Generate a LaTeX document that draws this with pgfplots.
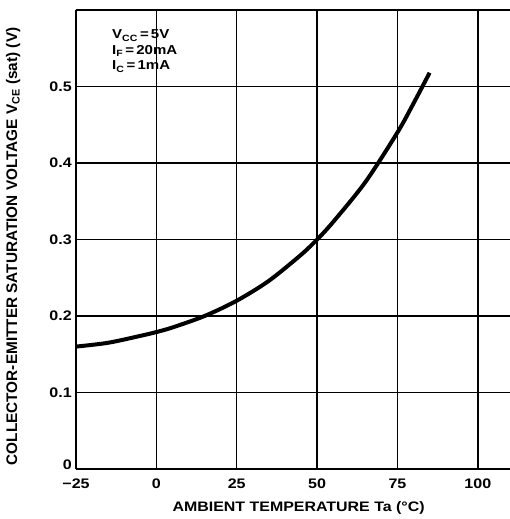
\documentclass[border=0pt]{standalone}
\usepackage{pgfplots}
\pgfplotsset{compat=1.18}
\usepackage{fontspec}
\setmainfont{Liberation Sans}
% the scanned sheet is a little wider than tall, so horizontal text is stretched
\newfontfamily\widefont[FakeStretch=1.16]{Liberation Sans}

\begin{document}
\begin{tikzpicture}
\begin{axis}[
    scale only axis,
    width=434bp, height=459bp,
    xmin=-25, xmax=110,
    ymin=0, ymax=0.6,
    axis x line=box,
    axis y line=left,
    axis line style={line width=2.6bp, -},
    xtick={-25,0,25,50,75,100},
    xticklabels={−25,0,25,50,75,100},
    ytick={0,0.1,0.2,0.3,0.4,0.5,0.6},
    yticklabels={\raisebox{8bp}{0},0.1,0.2,0.3,0.4,0.5,},
    major tick length=0pt,
    grid=major,
    major grid style={black, line width=1.5bp},
    tick label style={font=\widefont\bfseries\fontsize{13.9}{15}\selectfont, inner sep=0pt},
    xticklabel style={anchor=center, yshift=-15bp},
    yticklabel style={anchor=east, xshift=-4bp},
    /pgf/number format/assume math mode=true,
    xlabel={AMBIENT TEMPERATURE Ta (°C)},
    ylabel={COLLECTOR-EMITTER SATURATION VOLTAGE V\textsubscript{CE} (sat) (V)},
    every axis x label/.style={at={(axis description cs:0.513,-0.085)}, anchor=center,
        font=\widefont\bfseries\fontsize{13.8}{15}\selectfont},
    every axis y label/.style={at={(axis description cs:-0.145,0.485)}, anchor=center, rotate=90,
        font=\bfseries\fontsize{15.4}{16}\selectfont},
    clip=false,
]
\addplot[black, line width=4bp, smooth] coordinates {
    (-25,0.160) (-15,0.165) (-5,0.174) (0,0.179) (5,0.185) (15,0.200)
    (25,0.220) (35,0.246) (45,0.280) (50,0.300) (55,0.323) (65,0.375)
    (75,0.440) (80,0.478) (85,0.518)
};
\node[anchor=north west, align=left, font=\widefont\bfseries\fontsize{13}{15.5}\selectfont, inner sep=0pt]
    at (axis cs:-13.8,0.574) {V\textsubscript{CC}\,=\,5V\\I\textsubscript{F}\,=\,20mA\\I\textsubscript{C}\,=\,1mA};
\end{axis}
\pgfresetboundingbox
\path ([shift={(-76bp,-50bp)}]current axis.south west)
    rectangle ([shift={(0bp,10bp)}]current axis.north east);
\end{tikzpicture}
\end{document}
